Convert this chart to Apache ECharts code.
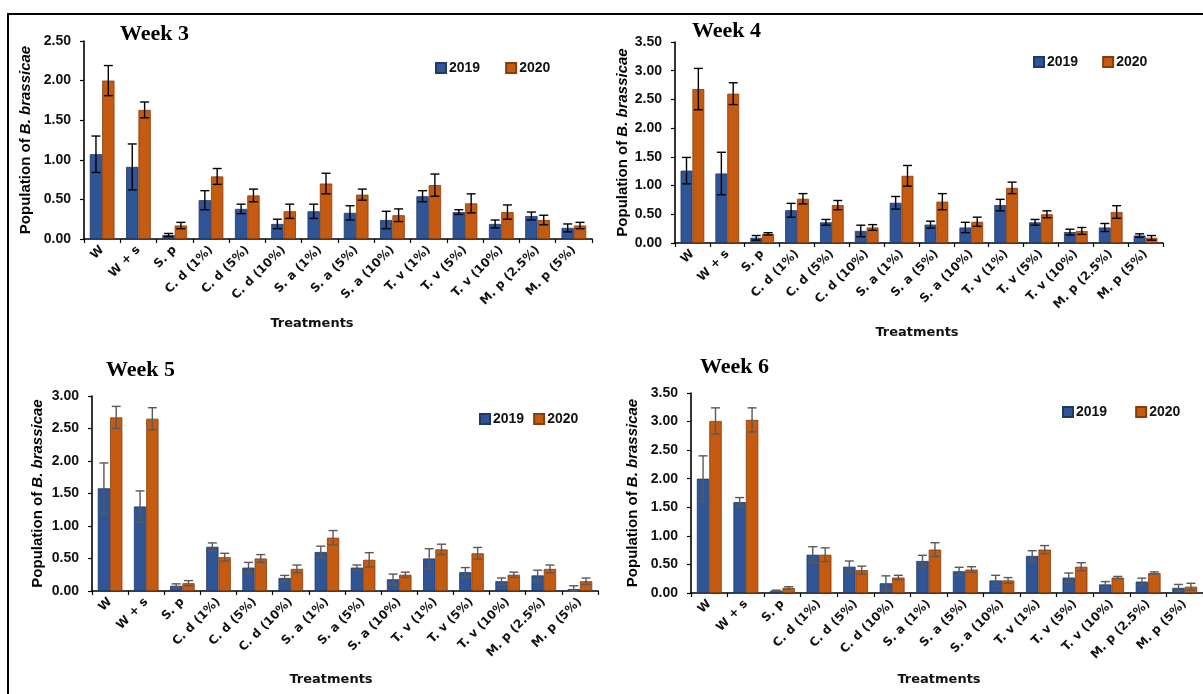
<!DOCTYPE html>
<html>
<head>
<meta charset="utf-8">
<script src="https://cdn.jsdelivr.net/npm/echarts@6/dist/echarts.min.js"></script>
<style>
  html, body { margin: 0; padding: 0; background: #fff; }
  #chart { width: 1203px; height: 694px; }
</style>
</head>
<body>
<div id="chart"></div>
<script>
// -----------------------------------------------------------------------------
// Population of B. brassicae - weeks 3 to 6, 2019 vs 2020
// -----------------------------------------------------------------------------
const categories = ["W", "W + s", "S. p", "C. d (1%)", "C. d (5%)", "C. d (10%)", "S. a (1%)", "S. a (5%)",
  "S. a (10%)", "T. v (1%)", "T. v (5%)", "T. v (10%)", "M. p (2.5%)", "M. p (5%)"];
const years = ["2019", "2020"];

const week3_2019 = [1.07, 0.91, 0.05, 0.49, 0.38, 0.19, 0.35, 0.33, 0.24, 0.54, 0.34, 0.19, 0.29, 0.14];
const week3_2019_err = [0.23, 0.29, 0.02, 0.12, 0.06, 0.06, 0.09, 0.09, 0.11, 0.07, 0.03, 0.05, 0.05, 0.05];
const week3_2020 = [2.00, 1.63, 0.17, 0.79, 0.55, 0.35, 0.70, 0.56, 0.30, 0.68, 0.45, 0.34, 0.24, 0.17];
const week3_2020_err = [0.19, 0.10, 0.04, 0.10, 0.08, 0.09, 0.13, 0.07, 0.08, 0.14, 0.12, 0.09, 0.06, 0.04];

const week4_2019 = [1.26, 1.21, 0.09, 0.57, 0.36, 0.21, 0.70, 0.32, 0.27, 0.66, 0.36, 0.19, 0.27, 0.13];
const week4_2019_err = [0.23, 0.37, 0.04, 0.12, 0.05, 0.10, 0.11, 0.06, 0.09, 0.10, 0.05, 0.05, 0.07, 0.03];
const week4_2020 = [2.68, 2.60, 0.16, 0.77, 0.66, 0.27, 1.17, 0.72, 0.37, 0.96, 0.50, 0.21, 0.54, 0.09];
const week4_2020_err = [0.36, 0.19, 0.02, 0.09, 0.08, 0.05, 0.18, 0.14, 0.08, 0.10, 0.06, 0.06, 0.11, 0.04];

const week5_2019 = [1.58, 1.30, 0.08, 0.68, 0.36, 0.20, 0.60, 0.36, 0.18, 0.50, 0.29, 0.15, 0.24, 0.03];
const week5_2019_err = [0.39, 0.24, 0.03, 0.06, 0.08, 0.04, 0.09, 0.04, 0.08, 0.15, 0.07, 0.05, 0.08, 0.05];
const week5_2020 = [2.67, 2.65, 0.12, 0.52, 0.50, 0.34, 0.82, 0.48, 0.25, 0.64, 0.58, 0.25, 0.34, 0.15];
const week5_2020_err = [0.17, 0.17, 0.04, 0.06, 0.06, 0.06, 0.11, 0.11, 0.04, 0.08, 0.09, 0.04, 0.06, 0.05];

const week6_2019 = [2.00, 1.59, 0.04, 0.67, 0.46, 0.17, 0.56, 0.38, 0.22, 0.65, 0.27, 0.15, 0.20, 0.09];
const week6_2019_err = [0.40, 0.08, 0.01, 0.14, 0.10, 0.13, 0.10, 0.07, 0.09, 0.09, 0.08, 0.05, 0.06, 0.06];
const week6_2020 = [3.01, 3.03, 0.09, 0.67, 0.40, 0.27, 0.76, 0.41, 0.22, 0.76, 0.46, 0.27, 0.35, 0.11];
const week6_2020_err = [0.23, 0.21, 0.02, 0.12, 0.07, 0.04, 0.12, 0.05, 0.05, 0.07, 0.07, 0.02, 0.02, 0.06];

const yMax = [2.5, 3.5, 3.0, 3.5];
const titles = ["Week 3", "Week 4", "Week 5", "Week 6"];

const panels = [
  { title: titles[0], max: yMax[0], a: week3_2019, ae: week3_2019_err, b: week3_2020, be: week3_2020_err,
    grid: { left: 84, top: 41, width: 508, height: 198 }, errColor: "#000000", nameGap: 51,
    titlePos: [120, 34], legend: { left: 435, top: 61, itemGap: 25 }, xName: [312, 324] },
  { title: titles[1], max: yMax[1], a: week4_2019, ae: week4_2019_err, b: week4_2020, be: week4_2020_err,
    grid: { left: 675, top: 42, width: 488, height: 201 }, errColor: "#000000", nameGap: 45,
    titlePos: [692, 31], legend: { left: 1033, top: 55, itemGap: 24 }, xName: [917, 333] },
  { title: titles[2], max: yMax[2], a: week5_2019, ae: week5_2019_err, b: week5_2020, be: week5_2020_err,
    grid: { left: 92, top: 396, width: 506, height: 195 }, errColor: "#595959", nameGap: 47,
    titlePos: [106, 370], legend: { left: 479, top: 412, itemGap: 9 }, xName: [331, 680] },
  { title: titles[3], max: yMax[3], a: week6_2019, ae: week6_2019_err, b: week6_2020, be: week6_2020_err,
    grid: { left: 691, top: 393, width: 515, height: 200 }, errColor: "#595959", nameGap: 51,
    titlePos: [700, 367], legend: { left: 1062, top: 405, itemGap: 28 }, xName: [939, 680] }
];

const BLUE = "#2F5597";
const ORANGE = "#C55A11";
const BAR_W = 0.34;

function errData(vals, errs) {
  return vals.map((v, i) => [i, Math.max(0, v - errs[i]), v + errs[i]]);
}

function errRender(sign, color) {
  return (params, api) => {
    const i = api.value(0);
    const lo = api.coord([i, api.value(1)]);
    const hi = api.coord([i, api.value(2)]);
    const cw = api.size([1, 0])[0];
    const cx = lo[0] + sign * cw * BAR_W / 2;
    const cap = 4.5;
    const st = { stroke: color, lineWidth: 1.4 };
    return {
      type: "group",
      children: [
        { type: "line", shape: { x1: cx, y1: hi[1], x2: cx, y2: lo[1] }, style: st },
        { type: "line", shape: { x1: cx - cap, y1: hi[1], x2: cx + cap, y2: hi[1] }, style: st },
        { type: "line", shape: { x1: cx - cap, y1: lo[1], x2: cx + cap, y2: lo[1] }, style: st }
      ]
    };
  };
}

const grids = [], xAxes = [], yAxes = [], series = [], legends = [], graphics = [];

panels.forEach((p, k) => {
  grids.push(p.grid);
  xAxes.push({
    type: "category",
    gridIndex: k,
    data: categories,
    axisLine: { lineStyle: { color: "#000", width: 1.6 } },
    axisTick: { show: true, length: 4, lineStyle: { color: "#000", width: 1.2 } },
    axisLabel: {
      interval: 0, rotate: 45, margin: 9, color: "#111",
      fontFamily: "DejaVu Sans", fontWeight: "bold", fontSize: 12
    },
    splitLine: { show: false }
  });
  yAxes.push({
    type: "value",
    gridIndex: k,
    min: 0,
    max: p.max,
    interval: 0.5,
    name: "{n|Population of }{i|B. brassicae}",
    nameLocation: "middle",
    nameGap: p.nameGap,
    nameTextStyle: {
      rich: {
        n: { fontFamily: "Liberation Sans", fontWeight: "bold", fontSize: 15, color: "#000" },
        i: { fontFamily: "Liberation Sans", fontWeight: "bold", fontStyle: "italic", fontSize: 15, color: "#000" }
      }
    },
    axisLine: { show: true, lineStyle: { color: "#000", width: 1.6 } },
    axisTick: { show: true, length: 4, lineStyle: { color: "#000", width: 1.2 } },
    axisLabel: {
      margin: 13, color: "#111", fontFamily: "Liberation Sans", fontWeight: "bold", fontSize: 14,
      formatter: (v) => v.toFixed(2)
    },
    splitLine: { show: false }
  });

  series.push({
    name: years[0], type: "bar", xAxisIndex: k, yAxisIndex: k, data: p.a,
    barWidth: BAR_W * 100 + "%", barGap: "0%",
    itemStyle: { color: BLUE, borderColor: "#1F3864", borderWidth: 0.8 }
  });
  series.push({
    name: years[1], type: "bar", xAxisIndex: k, yAxisIndex: k, data: p.b,
    barWidth: BAR_W * 100 + "%", barGap: "0%",
    itemStyle: { color: ORANGE, borderColor: "#843C0C", borderWidth: 0.8 }
  });
  series.push({
    name: "err " + years[0], type: "custom", xAxisIndex: k, yAxisIndex: k, z: 5,
    renderItem: errRender(-1, p.errColor), data: errData(p.a, p.ae),
    encode: { x: 0, y: [1, 2] }, silent: true
  });
  series.push({
    name: "err " + years[1], type: "custom", xAxisIndex: k, yAxisIndex: k, z: 5,
    renderItem: errRender(1, p.errColor), data: errData(p.b, p.be),
    encode: { x: 0, y: [1, 2] }, silent: true
  });

  legends.push({
    data: years,
    left: p.legend.left,
    top: p.legend.top,
    itemGap: p.legend.itemGap,
    itemWidth: 10,
    itemHeight: 10,
    icon: "rect",
    padding: 0,
    textStyle: { fontFamily: "Liberation Sans", fontWeight: "bold", fontSize: 14, color: "#111", padding: [0, 0, 0, -2] }
  });

  graphics.push({
    type: "text",
    style: {
      text: p.title, x: p.titlePos[0], y: p.titlePos[1],
      font: "bold 22px 'Liberation Serif'", fill: "#000",
      align: "left", verticalAlign: "middle"
    }
  });
  graphics.push({
    type: "text",
    style: {
      text: "Treatments", x: p.xName[0], y: p.xName[1],
      font: "bold 13px 'DejaVu Sans'", fill: "#111",
      align: "center", verticalAlign: "middle"
    }
  });
});

// cadre du document (haut + gauche)
graphics.push({ type: "line", shape: { x1: 7, y1: 14, x2: 1203, y2: 14 }, style: { stroke: "#000", lineWidth: 2 } });
graphics.push({ type: "line", shape: { x1: 8, y1: 14, x2: 8, y2: 694 }, style: { stroke: "#000", lineWidth: 2 } });

const chart = echarts.init(document.getElementById("chart"));
chart.setOption({
  backgroundColor: "#ffffff",
  animation: false,
  grid: grids,
  xAxis: xAxes,
  yAxis: yAxes,
  legend: legends,
  series: series,
  graphic: graphics
});
</script>
</body>
</html>
